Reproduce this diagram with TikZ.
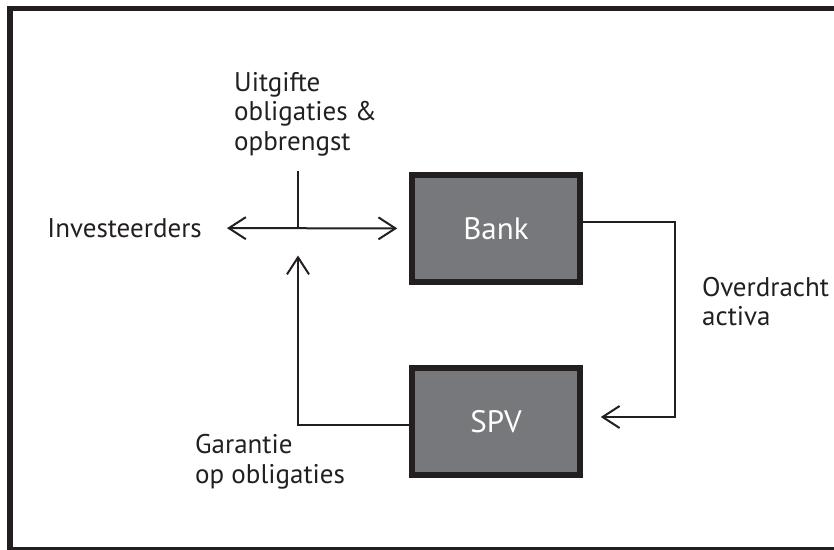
\documentclass[tikz,border=0pt]{standalone}
\usepackage{fontspec}
\setmainfont{PT Sans}
\usetikzlibrary{arrows.meta}
\definecolor{donker}{HTML}{231F20}
\definecolor{grijs}{HTML}{77787B}
\begin{document}
\begin{tikzpicture}[x=1pt,y=-1pt]
		% de stijlen
		\tikzstyle{tekst}=[inner sep=0pt,text=donker,font=\fontsize{27}{29.5}\selectfont]
		\tikzstyle{blok}=[rectangle,draw=donker,line width=5.5pt,fill=grijs,text=white,minimum width=168pt,minimum height=107pt,font=\fontsize{31}{34}\selectfont]
		\tikzstyle{lijn}=[draw=donker,line width=2pt]
		\tikzstyle{pijl}=[lijn,arrows={-Straight Barb[length=17pt,width=22pt]}]
		\clip (0,0) rectangle (834,549);
		% het kader
		\draw[donker,line width=5.5pt] (10,8.5) rectangle (845,549.5);
		% de knopen
		\node[tekst,anchor=east] (inv) at (202,228) {Investeerders};
		\node[tekst,align=left,anchor=west] (uitgifte) at (234,114) {Uitgifte\\obligaties \&\\opbrengst};
		\node[blok] (bank) at (496,228.5) {Bank};
		\node[blok] (spv) at (496,421.5) {SPV};
		\node[tekst,align=left,anchor=west] (overdracht) at (702,301.5) {Overdracht\\activa};
		\node[tekst,align=left,anchor=west] (garantie) at (195,461.5) {Garantie\\op obligaties};
		\coordinate (kruis) at (298,228.5);
		% de pijlen
		\draw[pijl,arrows={Straight Barb[length=17pt,width=22pt]-Straight Barb[length=17pt,width=22pt]},shorten <=25pt,shorten >=12pt] (inv) -- (bank);
		\draw[lijn,shorten <=15pt] (kruis |- uitgifte.south) -- (kruis);
		\draw[pijl,shorten >=27pt] ([yshift=-3.5pt]spv.west) -| (kruis);
		\draw[pijl,shorten >=18pt] ([yshift=6.5pt]bank.east) -- ++(92,0) |- ([yshift=4.5pt]spv.east);
	\end{tikzpicture}
\end{document}
